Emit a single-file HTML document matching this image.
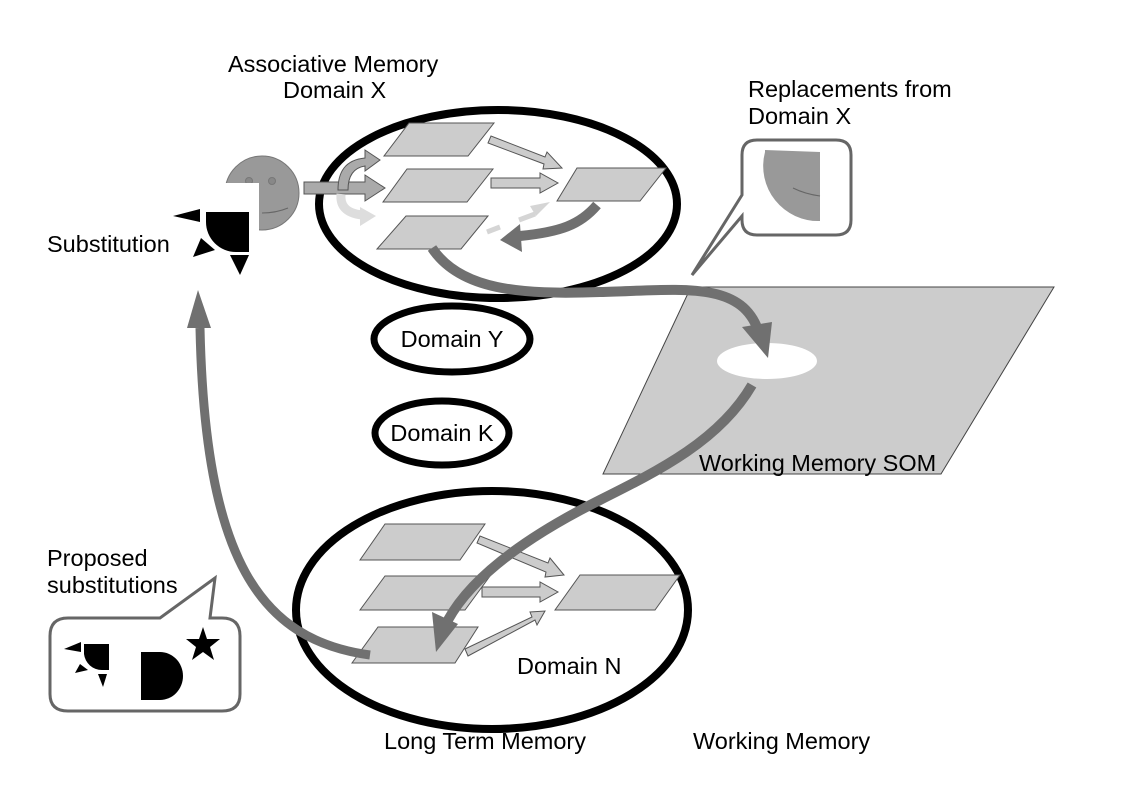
<!DOCTYPE html>
<html><head><meta charset="utf-8"><style>
html,body{margin:0;padding:0;background:#fff;}
svg{display:block;}
text{font-family:"Liberation Sans",sans-serif;font-size:23.5px;fill:#000;}
</style></head><body>
<svg width="1123" height="794" viewBox="0 0 1123 794" xmlns="http://www.w3.org/2000/svg">
<!-- SOM -->
<polygon points="691,287 1054,287 941,474 603,474" fill="#cccccc" stroke="#444" stroke-width="1"/>
<ellipse cx="767" cy="361" rx="50" ry="18" fill="#fff"/>
<text x="699" y="471">Working Memory SOM</text>

<!-- Top ellipse -->
<ellipse cx="498" cy="204" rx="179" ry="94" fill="none" stroke="#000" stroke-width="8"/>
<g fill="#cccccc" stroke="#555" stroke-width="1">
<polygon points="409,123 494,123 468,156 384,156"/>
<polygon points="407,169 493,169 467,202 383,202"/>
<polygon points="577,168 666,168 640,201 557,201"/>
<polygon points="406,216 488,216 461,249 377,249"/>
</g>
<g stroke="#555" stroke-width="1">
<polygon points="304,182 365,182 365,175 385,188 365,201 365,194 304,194" fill="#aaaaaa"/>
<path d="M338,190 C338,172 345,160 365,158 L365,150 L380,160 L365,171 L365,166 C352,168 348,178 348,190 Z" fill="#aaaaaa"/>
<polygon points="488,143 491,136 545,157 547,152 562,168 543,169 544,164" fill="#cccccc"/>
<polygon points="491,178 540,178 540,173 558,183 540,193 540,188 491,188" fill="#cccccc"/>
<polygon points="465,649 532,617 530,612 545,611 537,625 535,620 468,656" fill="#cccccc"/>
<polygon points="477,543 480,536 548,563 550,558 564,575 545,577 546,572" fill="#cccccc"/>
<polygon points="482,587 540,587 540,582 558,592 540,602 540,597 482,597" fill="#cccccc"/>
</g>
<path d="M341,194 C340,205 345,213 362,215" stroke="#dddddd" stroke-width="9" fill="none"/>
<polygon points="360,207 376,216 360,226" fill="#dddddd"/>
<path d="M487,232 L500,227 M519,220 L535,214" stroke="#d5d5d5" stroke-width="5"/>
<polygon points="530,206 550,202 536,216" fill="#d5d5d5"/>
<path d="M597,205 C580,225 560,232 520,236" stroke="#707070" stroke-width="10" fill="none"/>
<polygon points="520,224 500,240 522,252" fill="#707070"/>

<!-- smiley -->
<circle cx="262" cy="193" r="37" fill="#999" stroke="#777" stroke-width="1"/>
<circle cx="249" cy="181" r="3.5" fill="#888" stroke="#777"/>
<circle cx="272" cy="181" r="3.5" fill="#888" stroke="#777"/>
<path d="M262,213 Q276,213 288,208" stroke="#666" fill="none" stroke-width="1"/>
<rect x="222" y="183" width="37" height="55" fill="#fff"/>
<path d="M206,212 L249,212 L249,252 L236,252 A30,30 0 0 1 206,222 Z" fill="#000"/>
<polygon points="173,216 200,209 200,222" fill="#000"/>
<polygon points="193,257 201,238 215,250" fill="#000"/>
<polygon points="230,255 249,255 240,275" fill="#000"/>
<text x="47" y="252">Substitution</text>

<text x="228" y="72">Associative Memory</text>
<text x="283" y="98">Domain X</text>
<text x="748" y="97">Replacements from</text>
<text x="748" y="124">Domain X</text>

<path d="M757,140 L836,140 Q851,140 851,155 L851,220 Q851,235 836,235 L757,235 Q742,235 742,220 L742,216 L692,275 L742,195 L742,155 Q742,140 757,140 Z" fill="#fff" stroke="#666" stroke-width="3"/>
<path d="M765,150 L765,152 A55,55 0 0 0 820,221 L820,152 Z" fill="#999"/>
<path d="M793,188 Q805,194 820,196" stroke="#666" fill="none" stroke-width="1"/>

<ellipse cx="452" cy="339" rx="78" ry="33" fill="none" stroke="#000" stroke-width="7"/>
<text x="452" y="347" text-anchor="middle">Domain Y</text>
<ellipse cx="442" cy="433" rx="67" ry="32" fill="none" stroke="#000" stroke-width="7"/>
<text x="442" y="441" text-anchor="middle">Domain K</text>

<ellipse cx="492" cy="610" rx="196" ry="119" fill="none" stroke="#000" stroke-width="8"/>
<g fill="#cccccc" stroke="#555" stroke-width="1">
<polygon points="385,524 485,524 460,560 360,560"/>
<polygon points="385,576 490,576 465,610 360,610"/>
<polygon points="580,575 680,575 655,610 555,610"/>
<polygon points="378,627 478,627 455,663 352,663"/>
</g>
<text x="517" y="674">Domain N</text>

<path d="M432,248 C460,290 520,295 600,292 C680,290 740,280 758,330" stroke="#707070" stroke-width="10" fill="none"/>
<polygon points="742,327 772,322 768,358" fill="#707070"/>
<path d="M752,385 C720,440 660,470 600,500 C520,540 470,580 448,620" stroke="#707070" stroke-width="10" fill="none"/>
<polygon points="432,612 458,624 436,652" fill="#707070"/>
<path d="M370,655 C260,640 205,560 200,328" stroke="#707070" stroke-width="9" fill="none"/>
<polygon points="187,328 198,290 211,328" fill="#707070"/>

<path d="M68,618 L160,618 L215,578 L210,618 L222,618 Q240,618 240,636 L240,694 Q240,711 222,711 L68,711 Q50,711 50,694 L50,636 Q50,618 68,618 Z" fill="#fff" stroke="#666" stroke-width="3"/>
<path d="M84,644 L109,644 L109,670 L102,670 A18,18 0 0 1 84,654 Z" fill="#000"/>
<polygon points="64,649 81,642 81,652" fill="#000"/>
<polygon points="75,673 80,664 88,670" fill="#000"/>
<polygon points="98,674 107,674 103,687" fill="#000"/>
<path d="M141,652 L160,652 A23,24 0 0 1 160,700 L141,700 Z" fill="#000"/>
<polygon points="203,627 207,639 220,639 210,647 214,660 203,652 192,660 196,647 186,639 199,639" fill="#000"/>
<text x="47" y="566">Proposed</text>
<text x="47" y="593">substitutions</text>

<text x="384" y="749">Long Term Memory</text>
<text x="693" y="749">Working Memory</text>
</svg>
</body></html>
